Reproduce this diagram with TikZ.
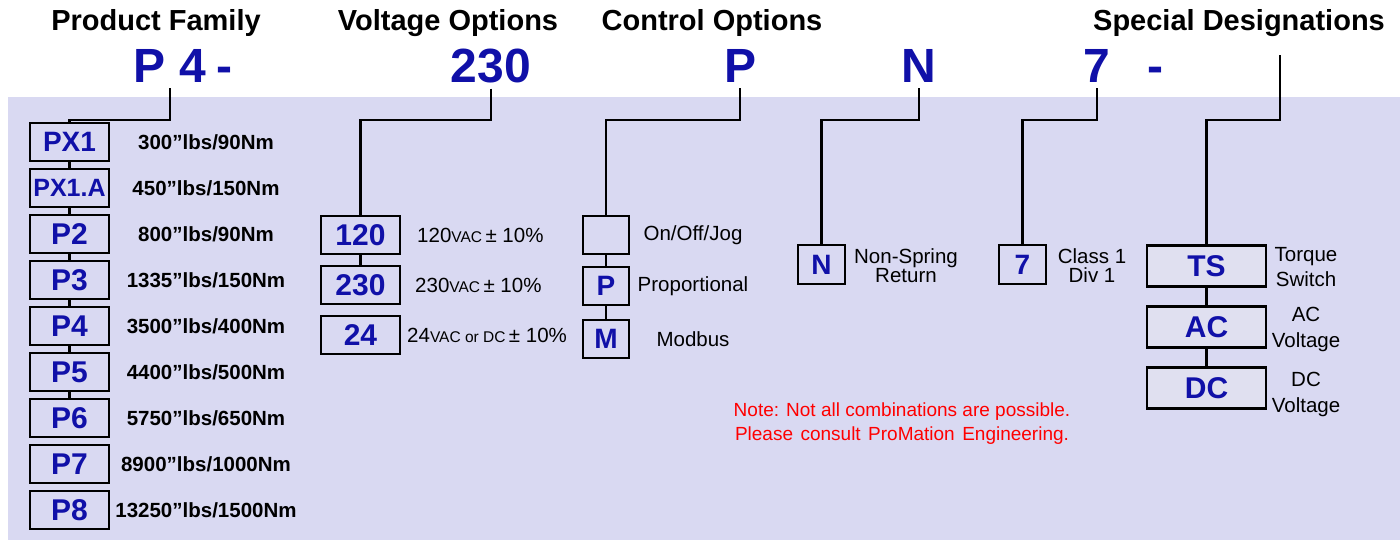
\documentclass[tikz,border=0pt]{standalone}
\usepackage{fontspec}
\setmainfont{Liberation Sans}
\usepackage{tikz}
\usetikzlibrary{positioning}
\definecolor{cBg}{HTML}{D9D9F2}
\definecolor{cBoxLt}{HTML}{E0E0F0}
\definecolor{cCode}{HTML}{1010A8}
\definecolor{cNote}{HTML}{FF0000}
\tikzset{
  hdr/.style={font=\fontsize{29}{34}\selectfont\bfseries,anchor=base,inner sep=0pt},
  code/.style={font=\fontsize{48}{56}\selectfont\bfseries,text=cCode,anchor=base,inner sep=6pt},
  obox/.style={draw,line width=2.3pt,fill=cBg,text=cCode,font=\fontsize{30}{34}\selectfont\bfseries,
    minimum width=79pt,minimum height=38pt,inner sep=0pt,outer sep=0pt},
  sbox/.style={obox,font=\fontsize{28}{32}\selectfont\bfseries,minimum width=47pt,minimum height=39pt},
  wbox/.style={obox,fill=cBoxLt,minimum width=119pt,minimum height=41pt},
  spec/.style={font=\fontsize{20.5}{24}\selectfont\bfseries,inner sep=0pt},
  volt/.style={font=\fontsize{20.5}{24}\selectfont,inner sep=0pt},
  desc/.style={font=\fontsize{20.5}{25}\selectfont,align=center,inner sep=0pt},
  note/.style={font=\fontsize{19}{24}\selectfont,text=cNote,align=center,inner sep=0pt},
  wire/.style={line width=2.3pt}}
\newcommand{\vsub}[1]{{\fontsize{15.5}{18}\selectfont #1}}

\begin{document}
\begin{tikzpicture}[x=1pt,y=-1pt]
\useasboundingbox (0,0) rectangle (1400,544);
\fill[cBg] (8,97) rectangle (1400,540);
% headings and model code
\node[hdr] (hPF) at (156,30) {Product Family};
\node[hdr] (hVO) at (448,30) {Voltage Options};
\node[hdr] (hCO) at (712,30) {Control Options};
\node[hdr] (hSD) at (1239,30) {Special Designations};
\node[code] (cPF) at (170,82) {P 4};
\node[code] (cD1) at (224,82) {-};
\node[code] (cVO) at (491,82) {230};
\node[code] (cCO) at (740,82) {P};
\node[code] (cNS) at (919,82) {N};
\node[code] (cCL) at (1097,82) {7};
\node[code] (cD2) at (1155,82) {-};
\coordinate (cSD) at (1280,55);
\coordinate (bus) at (0,120);
% product family
\node[obox,font=\fontsize{28}{32}\selectfont\bfseries] (px1) at (69.5,142) {PX1};
\node[obox,font=\fontsize{25}{30}\selectfont\bfseries,below=8pt of px1] (px1a) {PX1.A};
\node[obox,below=8pt of px1a] (p2) {P2};
\node[obox,below=8pt of p2] (p3) {P3};
\node[obox,below=8pt of p3] (p4) {P4};
\node[obox,below=8pt of p4] (p5) {P5};
\node[obox,below=8pt of p5] (p6) {P6};
\node[obox,below=8pt of p6] (p7) {P7};
\node[obox,below=8pt of p7] (p8) {P8};
\coordinate (specX) at (206,0);
\node[spec] (s1) at (px1 -| specX) {300”lbs/90Nm};
\node[spec] (s1a) at (px1a -| specX) {450”lbs/150Nm};
\node[spec] (s2) at (p2 -| specX) {800”lbs/90Nm};
\node[spec] (s3) at (p3 -| specX) {1335”lbs/150Nm};
\node[spec] (s4) at (p4 -| specX) {3500”lbs/400Nm};
\node[spec] (s5) at (p5 -| specX) {4400”lbs/500Nm};
\node[spec] (s6) at (p6 -| specX) {5750”lbs/650Nm};
\node[spec] (s7) at (p7 -| specX) {8900”lbs/1000Nm};
\node[spec] (s8) at (p8 -| specX) {13250”lbs/1500Nm};
% voltage
\node[obox] (v120) at (360.5,235) {120};
\node[obox,below=12pt of v120] (v230) {230};
\node[obox,below=12pt of v230] (v24) {24};
\node[volt,right=17pt of v120] (t120) {120\vsub{VAC}\,±\ 10\%};
\node[volt,right=15pt of v230] (t230) {230\vsub{VAC}\,±\ 10\%};
\node[volt,right=7pt of v24] (t24) {24\vsub{VAC or DC}\,±\ 10\%};
% control
\node[obox,minimum width=46pt] (kJog) at (606,235) {};
\node[obox,minimum width=46pt,font=\fontsize{28}{32}\selectfont\bfseries,below=13pt of kJog] (kP) {P};
\node[obox,minimum width=46pt,font=\fontsize{28}{32}\selectfont\bfseries,below=15pt of kP] (kM) {M};
\coordinate (ctlX) at (693,0);
\node[desc] (tJog) at (kJog -| ctlX) {On/Off/Jog};
\node[desc] (tP) at (kP -| ctlX) {Proportional};
\node[desc] (tM) at (kM -| ctlX) {Modbus};
% spring return, class
\node[sbox] (bN) at (821.5,264.5) {N};
\node[desc,font=\fontsize{20.5}{19}\selectfont] (tN) at (906,266) {Non-Spring\\Return};
\node[sbox] (b7) at (1022.5,264.5) {7};
\node[desc,font=\fontsize{20.5}{19}\selectfont] (t7) at (1092,266) {Class 1\\Div 1};
% special designations
\node[wbox] (bTS) at (1206.5,266) {TS};
\node[wbox,below=20pt of bTS] (bAC) {AC};
\node[wbox,below=20pt of bAC] (bDC) {DC};
\node[desc] (tTS) at (1306,267) {Torque\\Switch};
\node[desc,font=\fontsize{20.5}{26}\selectfont] (tAC) at (1306,329) {AC\\Voltage};
\node[desc,font=\fontsize{20.5}{26}\selectfont] (tDC) at (1306,394) {DC\\Voltage};
% note
\node[note] (nt) at (902,424) {Note: Not all combinations are possible.\\
  \makebox[334pt][s]{Please consult ProMation Engineering.}};
% connectors
\draw[wire] (cPF.south) |- (bus -| px1) -- (px1.north);
\draw[wire] (cVO.south) |- (bus -| v120) -- (v120.north);
\draw[wire] (cCO.south) |- (bus -| kJog) -- (kJog.north);
\draw[wire] (cNS.south) |- (bus -| bN) -- (bN.north);
\draw[wire] (cCL.south) |- (bus -| b7) -- (b7.north);
\draw[wire] (cSD) |- (bus -| bTS) -- (bTS.north);
\draw[wire] (px1) -- (px1a); \draw[wire] (px1a) -- (p2); \draw[wire] (p2) -- (p3);
\draw[wire] (p3) -- (p4); \draw[wire] (p4) -- (p5); \draw[wire] (p5) -- (p6);
\draw[wire] (v120) -- (v230);
\draw[wire] (kJog) -- (kP); \draw[wire] (kP) -- (kM);
\draw[wire] (bTS) -- (bAC); \draw[wire] (bAC) -- (bDC);
\end{tikzpicture}
\end{document}
